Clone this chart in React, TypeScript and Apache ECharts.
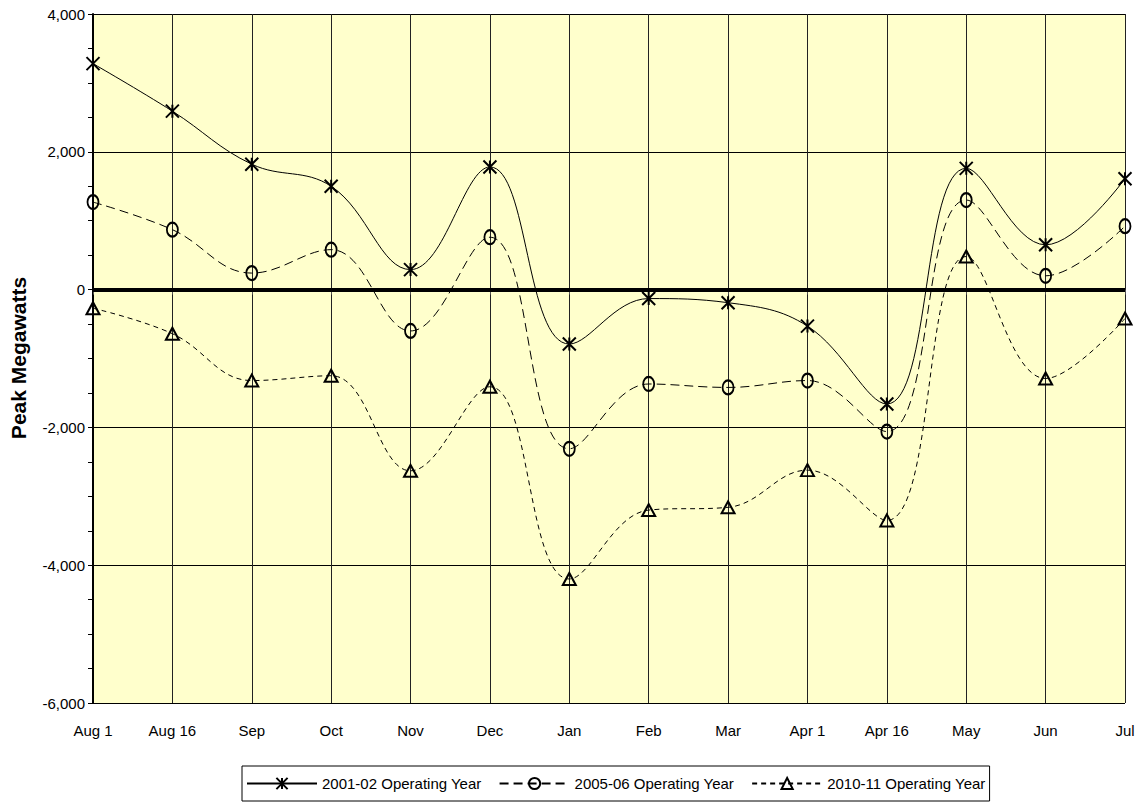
import React, { useEffect, useRef } from "react";
import * as echarts from "echarts";

const categories = ["Aug 1", "Aug 16", "Sep", "Oct", "Nov", "Dec", "Jan", "Feb", "Mar", "Apr 1", "Apr 16", "May", "Jun", "Jul"];

const seriesNames = ["2001-02 Operating Year", "2005-06 Operating Year", "2010-11 Operating Year"];

const year2001 = [3280, 2590, 1820, 1500, 290, 1780, -790, -130, -190, -530, -1660, 1760, 650, 1610];
const year2005 = [1270, 870, 240, 580, -600, 760, -2310, -1370, -1420, -1320, -2060, 1300, 200, 920];
const year2010 = [-270, -640, -1320, -1250, -2630, -1410, -4200, -3200, -3160, -2620, -3350, 480, -1290, -420];

const yMin = -6000;
const yMax = 4000;
const yStep = 2000;

const FONT = "Arial, 'Liberation Sans', sans-serif";

const asteriskSymbol = "path://M0 0L10 10M10 0L0 10M5 0L5 10";
const ovalSymbol = "path://M5 0A5 6.5 0 1 1 5 13A5 6.5 0 1 1 5 0Z";
const triangleSymbol = "path://M5 0L10 9L0 9Z";

const markerStyle = {
  color: "rgba(0,0,0,0)",
  borderColor: "#000",
  borderWidth: 2,
};

export default function App() {
  const ref = useRef<HTMLDivElement>(null);

  useEffect(() => {
    if (!ref.current) return;
    const chart = echarts.init(ref.current, undefined, { renderer: "svg" });

    chart.setOption({
      animation: false,
      backgroundColor: "#fff",
      textStyle: { fontFamily: FONT },
      grid: {
        left: 93,
        right: 18,
        top: 14,
        bottom: 104,
        show: true,
        backgroundColor: "#FFFFCC",
        borderWidth: 0,
      },
      legend: {
        left: 242,
        top: 766,
        padding: [10, 4, 10, 4],
        itemWidth: 70,
        itemHeight: 14,
        itemGap: 17,
        borderColor: "#000",
        borderWidth: 1,
        textStyle: { fontSize: 15, color: "#000", fontFamily: FONT },
        data: seriesNames,
      },
      xAxis: {
        type: "category",
        data: categories,
        boundaryGap: false,
        axisLine: { lineStyle: { color: "#000", width: 1 } },
        axisTick: { show: true, length: 5, lineStyle: { color: "#555" } },
        axisLabel: { fontSize: 15, color: "#000", margin: 20, fontFamily: FONT },
        splitLine: { show: true, lineStyle: { color: "#222", width: 1 } },
      },
      yAxis: {
        type: "value",
        min: yMin,
        max: yMax,
        interval: yStep,
        axisLine: { show: true, lineStyle: { color: "#000", width: 2 } },
        axisTick: { show: true, length: 5, lineStyle: { color: "#000" } },
        minorTick: { show: true, splitNumber: 4, length: 5, lineStyle: { color: "#000" } },
        axisLabel: {
          fontSize: 15,
          color: "#000",
          margin: 8,
          fontFamily: FONT,
          formatter: (v: number) => v.toLocaleString("en-US"),
        },
        splitLine: { show: true, lineStyle: { color: "#000", width: 1 } },
      },
      graphic: [
        {
          type: "text",
          x: 18,
          y: 358,
          rotation: Math.PI / 2,
          style: {
            text: "Peak Megawatts",
            fontSize: 21,
            fontWeight: "bold",
            fontFamily: FONT,
            fill: "#000",
            textAlign: "center",
            textVerticalAlign: "middle",
          },
        },
      ],
      series: [
        {
          name: seriesNames[0],
          type: "line",
          data: year2001,
          smooth: 0.4,
          symbol: asteriskSymbol,
          symbolSize: 13,
          itemStyle: markerStyle,
          lineStyle: { color: "#000", width: 1, type: "solid" },
          z: 4,
          markLine: {
            silent: true,
            symbol: "none",
            label: { show: false },
            lineStyle: { color: "#000", width: 4, type: "solid" },
            data: [{ yAxis: 0 }],
            z: 3,
          },
        },
        {
          name: seriesNames[1],
          type: "line",
          data: year2005,
          smooth: 0.4,
          symbol: ovalSymbol,
          symbolSize: [11, 14],
          itemStyle: markerStyle,
          lineStyle: { color: "#000", width: 1, type: [9, 5] },
          z: 4,
        },
        {
          name: seriesNames[2],
          type: "line",
          data: year2010,
          smooth: 0.4,
          symbol: triangleSymbol,
          symbolSize: [13, 12],
          itemStyle: markerStyle,
          lineStyle: { color: "#000", width: 1, type: [5, 4] },
          z: 4,
        },
      ],
    });

    return () => chart.dispose();
  }, []);

  return (
    <div
      ref={ref}
      style={{ position: "fixed", left: 0, top: 0, width: 1143, height: 807 }}
    />
  );
}
